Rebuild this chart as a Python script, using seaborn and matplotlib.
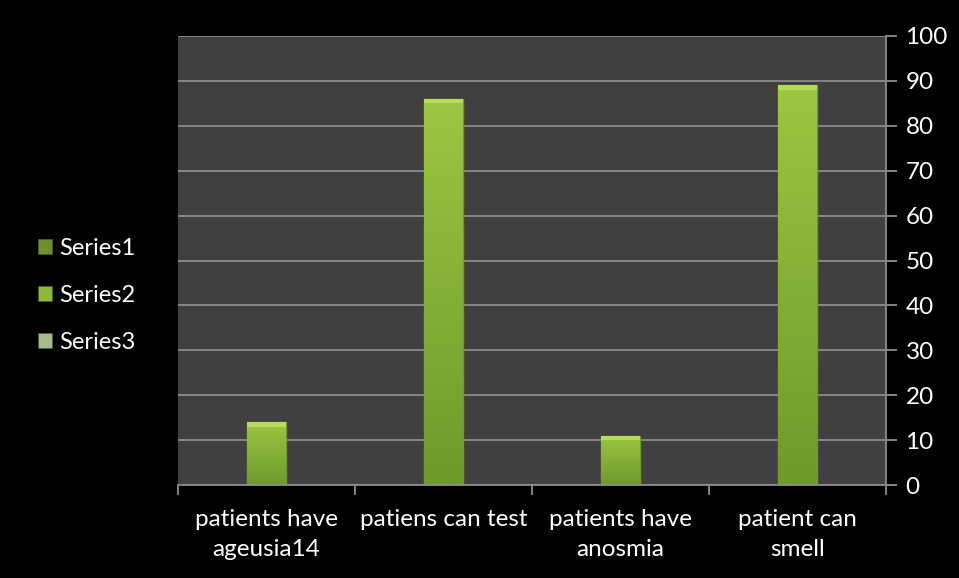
import matplotlib
matplotlib.use("Agg")
import matplotlib.pyplot as plt
import seaborn as sns
import numpy as np
import pandas as pd
from matplotlib.patches import Patch

categories = ["patients have\nageusia14", "patiens can test", "patients have\nanosmia", "patient can\nsmell"]
values = [14, 86, 11, 89]
series_names = ["Series1", "Series2", "Series3"]
series_colors = ["#6E8F2E", "#8DB836", "#A9B98F"]
y_ticks = list(range(0, 101, 10))

sns.set_theme(style="dark")
plt.rcParams['font.family'] = ['Lato', 'DejaVu Sans']

fig = plt.figure(figsize=(9.59, 5.78), dpi=100, facecolor="black")
ax = fig.add_axes([178/959, 1-485/578, (886-178)/959, (485-36)/578])
ax.set_facecolor("#404040")

df = pd.DataFrame({"cat": categories, "val": values})
sns.barplot(data=df, x="cat", y="val", ax=ax, width=0.22, color="#8DB836",
            edgecolor="#6F9A28", linewidth=1.0, saturation=1)

# gradient shading on bars
for p in ax.patches:
    x0, y0 = p.get_x(), p.get_y()
    w, h = p.get_width(), p.get_height()
    grad = np.linspace(0, 1, 50).reshape(-1, 1)
    grad = np.hstack([grad] * 10)
    cmap = matplotlib.colors.LinearSegmentedColormap.from_list("g", ["#6E9A2C", "#9CC640"])
    im = ax.imshow(grad, extent=[x0, x0 + w, y0, y0 + h], origin="lower",
                   cmap=cmap, aspect="auto", zorder=p.get_zorder() + 0.1)
    im.set_clip_path(p)
    ax.fill_between([x0, x0 + w], [y0 + h - 1.0, y0 + h - 1.0], [y0 + h, y0 + h],
                    color="#B6DB5A", zorder=p.get_zorder() + 0.2, linewidth=0)

ax.set_xlim(-0.5, 3.5)
ax.set_ylim(0, 100)
ax.set_yticks(y_ticks)
ax.yaxis.tick_right()
ax.yaxis.set_label_position("right")
ax.grid(axis="y", color="#8C8C8C", linewidth=1.3)
ax.grid(axis="x", visible=False)
ax.set_axisbelow(True)
ax.set_xlabel("")
ax.set_ylabel("")

ax.set_xticks(range(len(categories)))
ax.set_xticklabels(categories, linespacing=1.55)
ax.set_xticks([-0.5, 0.5, 1.5, 2.5, 3.5], minor=True)
ax.tick_params(axis="x", which="major", length=0, pad=17, labelsize=17.5, labelcolor="white")
ax.tick_params(axis="x", which="minor", length=7, width=1.3, color="#8C8C8C", bottom=True)
ax.tick_params(axis="y", which="major", length=8, width=1.3, color="#8C8C8C", right=True,
               left=False, pad=6, labelsize=17.5, labelcolor="white")

for s in ["top", "left"]:
    ax.spines[s].set_visible(False)
for s in ["bottom", "right"]:
    ax.spines[s].set_visible(True)
    ax.spines[s].set_color("#8C8C8C")
    ax.spines[s].set_linewidth(1.3)

handles = [Patch(facecolor=c, edgecolor="#4A5E20", linewidth=0.6) for c in series_colors]
leg = fig.legend(handles, series_names, loc="center left", bbox_to_anchor=(0.017, 0.489),
                 frameon=False, fontsize=17, labelcolor="white", handlelength=0.6,
                 handleheight=0.6, handletextpad=0.3, labelspacing=1.1)

fig.savefig("out.png", dpi=100, facecolor="black")
